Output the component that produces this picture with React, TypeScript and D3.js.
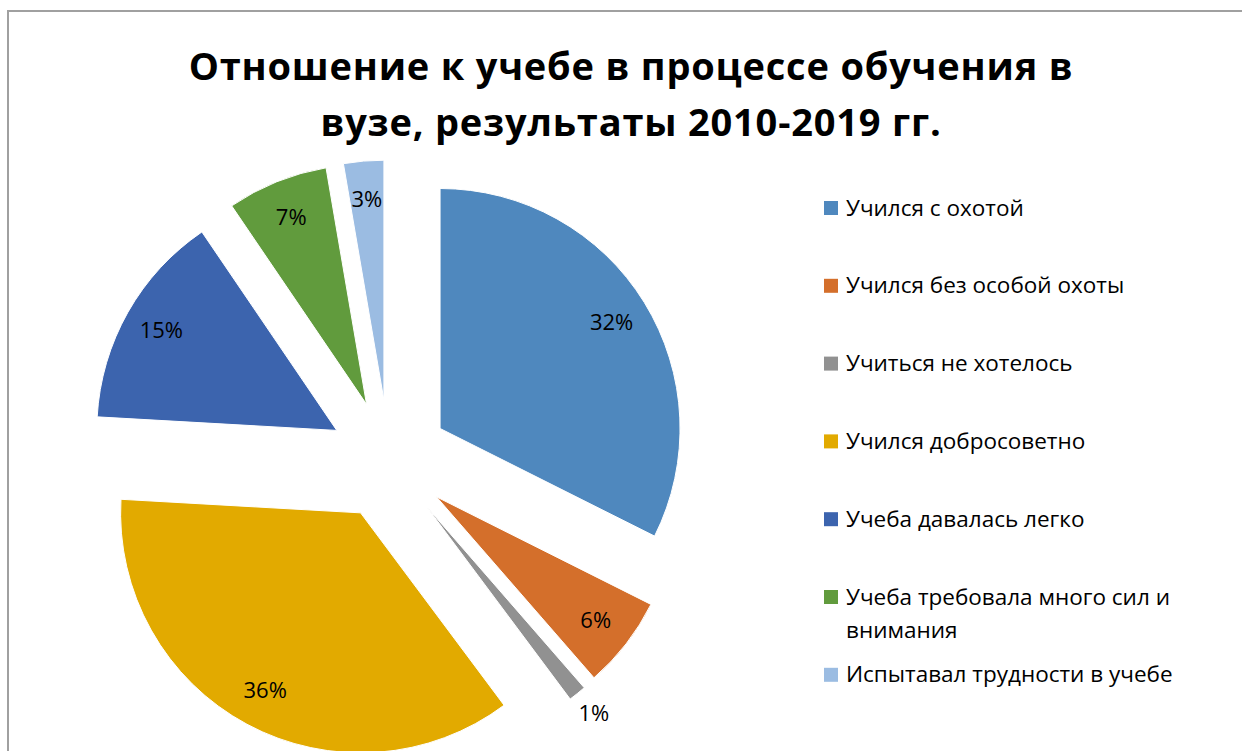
import React, { useEffect, useRef } from 'react';
import * as d3 from 'd3';

const categories = [
  'Учился с охотой',
  'Учился без особой охоты',
  'Учиться не хотелось',
  'Учился добросоветно',
  'Учеба давалась легко',
  'Учеба требовала много сил и внимания',
  'Испытавал трудности в учебе',
];
const values = [32.4, 6.2, 1.2, 36.1, 14.6, 6.8, 2.7];
const labels = ['32%', '6%', '1%', '36%', '15%', '7%', '3%'];
const colors = ['#4f88be', '#d46f2b', '#919191', '#e2aa00', '#3c64ae', '#619b3d', '#9bbce2'];
const titleLines = ['Отношение к учебе в процессе обучения в', 'вузе, результаты 2010-2019 гг.'];

const W = 1242;
const H = 751;
const FONT = "'Open Sans', 'Noto Sans', sans-serif";

export default function App() {
  const ref = useRef<SVGSVGElement>(null);

  useEffect(() => {
    const svg = d3.select(ref.current);
    svg.selectAll('*').remove();

    // chart frame (only left and top edges show inside the crop)
    svg.append('rect')
      .attr('x', 8).attr('y', 11)
      .attr('width', W + 20).attr('height', H + 20)
      .attr('fill', 'white')
      .attr('stroke', '#a0a0a0')
      .attr('stroke-width', 2);

    // title
    const title = svg.append('text')
      .attr('text-anchor', 'middle')
      .attr('font-family', FONT)
      .attr('font-weight', 'bold')
      .attr('font-size', 38)
      .attr('letter-spacing', 0.8)
      .attr('fill', '#000');
    titleLines.forEach((t, i) => {
      title.append('tspan').attr('x', 631).attr('y', 80 + i * 56).text(t);
    });

    // exploded pie
    const cx = 389, cy = 460, r = 240, explode = 60;
    const data = categories.map((c, i) => ({ name: c, value: values[i], label: labels[i], color: colors[i] }));
    const pie = d3.pie<any>().sort(null).value(d => d.value);
    const arc = d3.arc<any>().innerRadius(0).outerRadius(r);
    const arcs = pie(data);

    const g = svg.append('g').attr('transform', `translate(${cx},${cy})`);
    const slices = g.selectAll('g.slice')
      .data(arcs)
      .enter().append('g')
      .attr('class', 'slice')
      .attr('transform', d => {
        const mid = (d.startAngle + d.endAngle) / 2;
        return `translate(${explode * Math.sin(mid)},${-explode * Math.cos(mid)})`;
      });

    slices.append('path')
      .attr('d', arc)
      .attr('fill', d => d.data.color)
      .attr('stroke', 'white')
      .attr('stroke-width', 1);

    slices.append('text')
      .attr('transform', d => {
        const mid = (d.startAngle + d.endAngle) / 2;
        const lr = d.data.value < 2 ? r * 1.11 : r * 0.84;
        return `translate(${lr * Math.sin(mid)},${-lr * Math.cos(mid)})`;
      })
      .attr('text-anchor', 'middle')
      .attr('dy', '0.33em')
      .attr('font-family', FONT)
      .attr('font-size', 22)
      .attr('fill', '#000')
      .text(d => d.data.label);

    // legend
    const lx = 824, ly = 208, step = 77.8, maxW = 345;
    const legend = svg.append('g');
    data.forEach((d, i) => {
      const y = ly + i * step;
      legend.append('rect')
        .attr('x', lx).attr('y', y - 7)
        .attr('width', 14).attr('height', 14)
        .attr('fill', d.color);
      const txt = legend.append('text')
        .attr('x', lx + 22).attr('y', y + 7.5)
        .attr('font-family', FONT)
        .attr('font-size', 22.5)
        .attr('fill', '#000');
      // word wrap for long entries
      const words = d.name.split(' ');
      let line: string[] = [];
      let tspan = txt.append('tspan').attr('x', lx + 22).attr('dy', 0);
      words.forEach(w => {
        line.push(w);
        tspan.text(line.join(' '));
        if ((tspan.node() as SVGTSpanElement).getComputedTextLength() > maxW && line.length > 1) {
          line.pop();
          tspan.text(line.join(' '));
          line = [w];
          tspan = txt.append('tspan').attr('x', lx + 22).attr('dy', 33).text(w);
        }
      });
    });
  }, []);

  return (
    <svg ref={ref} width={W} height={H} style={{ position: 'absolute', left: 0, top: 0, background: 'white' }} />
  );
}
